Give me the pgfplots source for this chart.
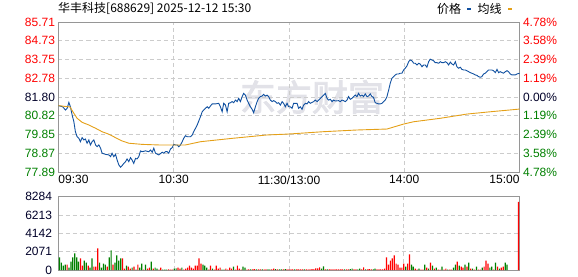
\documentclass[border=0pt]{standalone}
\usepackage{pgfplots}
\pgfplotsset{compat=1.18}
\usepackage{fontspec}
\setmainfont{Liberation Sans}
\newfontfamily\cjk{Noto Sans CJK SC}
\newfontfamily\cjkwm[FakeBold=2.5]{Noto Sans CJK SC}
\definecolor{pblue}{RGB}{16,80,160}
\definecolor{avgc}{RGB}{228,160,24}
\definecolor{upred}{RGB}{255,0,0}
\definecolor{dngreen}{RGB}{0,128,0}
\definecolor{navy}{RGB}{0,0,40}
\definecolor{gridc}{RGB}{204,204,204}
\definecolor{framec}{RGB}{150,150,150}
\definecolor{wm}{RGB}{226,226,232}

\pgfplotstableread{
m p
0 81.35
2.2 81.29
3.6 81.12
4.5 81.21
5.4 81.52
6.2 81.29
7.1 80.86
8.0 80.51
8.8 79.99
9.7 79.73
10.6 79.65
11.4 79.47
12.3 79.68
13.2 79.56
14.0 79.61
14.9 79.39
15.8 79.56
16.6 79.30
17.5 79.47
18.4 79.56
19.3 79.30
20.1 79.21
21.0 79.30
21.9 79.13
22.7 78.87
24.5 78.81
26.2 78.78
27.1 78.69
27.9 78.87
28.8 78.69
29.7 78.81
30.5 78.52
31.4 78.26
32.3 78.14
33.1 78.22
34.0 78.34
34.9 78.43
35.7 78.57
36.6 78.43
37.5 78.64
38.3 78.52
39.2 78.34
40.1 78.60
40.9 78.57
41.8 78.69
42.7 78.99
43.5 78.95
45.3 78.99
47.0 78.95
47.9 79.04
48.8 78.92
49.6 79.13
50.5 78.87
52.2 78.78
54.0 78.92
54.8 78.87
55.7 78.95
56.6 78.95
57.4 78.87
58.3 79.09
59.2 79.16
60.0 79.33
60.9 79.30
61.8 79.30
62.6 79.21
63.5 79.30
64.4 79.47
65.2 79.65
66.1 79.78
67.0 79.73
68.7 79.73
69.6 79.82
70.4 79.99
72.2 80.34
73.9 80.77
74.8 81.03
75.6 81.12
76.5 81.21
77.4 81.29
78.2 81.21
79.1 81.33
80.0 81.44
81.7 81.44
83.4 81.47
84.3 81.29
85.2 81.03
86.0 81.47
86.9 81.38
87.8 81.03
88.6 81.47
89.5 81.50
90.4 81.56
91.2 81.50
92.1 81.64
93.0 81.56
93.8 81.73
94.7 81.56
95.6 81.82
96.4 81.99
97.3 81.90
98.2 81.64
99.0 81.47
99.9 81.29
100.8 81.16
101.6 80.98
102.5 81.29
103.4 81.56
104.2 81.73
105.1 81.82
106.0 81.85
106.8 81.94
107.7 81.85
108.6 81.90
109.4 81.82
110.3 81.64
111.2 81.56
112.0 81.61
112.9 81.56
113.8 81.47
114.6 81.50
115.5 81.38
116.4 81.56
117.2 81.47
118.1 81.29
119.0 81.47
119.8 81.29
120.7 81.29
121.6 81.21
122.4 81.47
123.3 81.47
124.2 81.47
125.0 81.21
125.9 81.29
126.8 81.16
127.6 81.38
128.5 81.47
129.4 81.44
130.2 81.56
131.1 81.47
132.8 81.56
133.7 81.64
134.6 81.56
135.4 81.64
136.3 81.73
137.2 81.82
138.0 81.90
138.9 81.99
139.8 81.73
140.6 81.64
141.5 81.68
142.4 81.56
143.2 81.64
144.1 81.59
145.8 81.61
146.7 81.56
147.6 81.64
148.4 81.61
149.3 81.56
150.2 81.64
151.0 81.82
151.9 81.68
152.8 81.73
153.6 81.82
154.5 81.90
155.4 81.82
156.2 81.99
157.1 81.85
158.0 81.90
158.8 81.82
159.7 81.96
160.6 81.82
161.4 81.85
162.3 81.96
163.2 81.82
164.0 81.78
164.9 81.50
165.8 81.47
166.6 81.44
167.5 81.44
168.4 81.47
169.3 81.56
170.1 81.64
171.0 81.82
171.9 82.17
172.7 82.51
173.6 82.78
174.5 82.86
175.3 82.95
176.2 83.00
177.1 83.00
177.9 83.04
178.8 83.04
179.7 83.21
180.5 83.30
181.4 83.42
182.3 83.64
183.1 83.73
184.0 83.69
184.9 83.56
185.7 83.56
186.6 83.47
187.5 83.56
188.3 83.52
189.2 83.38
190.1 83.47
190.9 83.47
191.8 83.35
192.7 83.64
193.5 83.77
194.4 83.73
195.3 83.69
196.1 83.59
197.0 83.59
197.9 83.56
198.8 83.64
199.6 83.59
200.5 83.59
201.4 83.64
202.2 83.59
203.1 83.47
204.0 83.62
204.8 83.52
205.7 83.47
206.6 83.64
207.4 83.38
208.3 83.30
209.2 83.35
210.0 83.24
210.9 83.21
211.8 83.21
212.6 83.17
213.5 83.12
214.4 83.07
215.2 83.04
216.1 83.00
217.0 82.95
217.8 82.93
218.7 82.86
219.6 82.83
220.4 82.86
221.3 83.00
222.2 83.04
223.0 83.12
223.9 83.21
225.6 83.21
226.5 83.17
227.4 83.07
228.3 83.24
229.1 83.07
230.0 83.12
230.9 83.07
231.7 83.04
232.6 83.12
233.5 83.17
234.3 83.12
235.2 83.00
236.1 82.95
237.8 82.95
238.7 83.00
240.0 83.04
}\pricetab

\pgfplotstableread{
m p
0 81.35
6 81.28
8 80.95
9.7 80.69
12.3 80.48
15.8 80.34
19.3 80.17
22.7 79.99
26.2 79.86
29.7 79.68
33.1 79.51
36.6 79.39
43.5 79.33
52.2 79.30
66.1 79.30
74 79.47
91 79.65
108.5 79.82
120 79.87
137.7 79.99
155.4 80.08
171 80.13
174 80.22
179.7 80.39
184.9 80.51
198.8 80.69
212.6 80.91
224.8 81.03
240 81.17
}\avgtab

\pgfplotstableread{
m v
4 610
11 1300
12 500
15 500
18 380
19 380
20 2450
25 380
28 610
33 1300
34 150
36 380
37 150
39 380
41 610
44 50
46 150
47 270
49 150
52 50
53 270
57 80
58 50
59 50
62 270
63 150
65 50
66 150
67 270
68 500
69 270
70 150
71 500
72 500
73 1300
74 730
78 50
79 500
81 50
82 500
83 150
84 270
87 150
88 50
89 270
90 150
92 50
93 500
94 150
95 50
98 50
99 80
101 80
102 110
104 80
105 80
107 80
108 80
111 80
112 150
114 80
117 80
119 80
120 80
121 80
122 80
124 80
125 80
126 80
127 80
129 80
130 80
131 80
132 110
133 110
134 190
135 190
136 300
139 80
141 80
142 80
143 80
144 80
145 80
146 80
147 80
148 80
150 80
151 80
154 80
155 80
158 80
159 300
161 80
162 110
163 80
166 80
167 80
168 80
169 80
170 150
171 1420
172 610
173 1070
174 1300
175 1650
176 730
177 610
178 270
179 270
180 730
182 730
183 1760
186 150
187 50
189 50
190 50
192 270
194 840
196 150
198 50
199 50
201 50
202 150
204 50
205 50
208 960
210 380
211 270
213 380
215 150
217 50
219 50
220 50
222 380
223 1070
224 730
227 50
229 380
231 270
232 380
240 7700
}\redvol

\pgfplotstableread{
m v
0 1420
1 840
2 500
3 610
5 270
6 960
7 1420
8 1880
9 1420
10 960
13 1070
14 840
16 270
17 1300
21 840
22 270
23 730
24 610
26 1420
27 2220
29 840
30 1650
31 1070
32 1300
35 500
38 270
40 50
42 270
43 730
45 610
48 960
50 270
51 150
54 50
55 50
56 50
60 150
61 190
64 270
75 610
76 500
77 270
80 150
85 50
86 50
91 380
96 380
97 270
100 80
103 80
106 80
109 80
110 80
113 110
115 80
116 80
118 110
123 80
128 80
137 150
138 420
140 80
149 80
152 110
153 150
156 80
157 150
160 80
164 80
165 150
181 380
184 610
185 380
188 150
191 610
193 150
195 500
197 270
200 380
203 50
206 270
207 610
209 500
212 610
214 840
216 150
218 380
221 270
225 270
226 380
228 840
230 150
233 840
234 610
}\greenvol

\pgfplotsset{
  chartbase/.style={
    scale only axis, width=461pt,
    axis line style={framec, line width=0.8pt},
    major tick length=0pt, minor tick length=0pt,
    tick style={draw=none},
    major grid style={gridc, dash pattern=on 4pt off 3pt, line width=0.8pt},
    tick label style={font=\fontsize{12}{12}\selectfont},
  }
}

\begin{document}
\begin{tikzpicture}
\path[use as bounding box] (0pt,0pt) rectangle (578pt,276pt);
\node[font=\cjkwm\fontsize{36}{36}\selectfont, text=wm, inner sep=0pt] at (312pt,179pt) {东方财富};
\node[anchor=base west, font=\cjk\fontsize{12}{12}\selectfont, inner sep=0pt] at (58pt,263pt) {华丰科技[688629] 2025-12-12 15:30};

% price panel
\begin{axis}[chartbase, at={(58.5pt,104pt)}, anchor=south west, height=150pt,
  xmin=0, xmax=240, ymin=77.89, ymax=85.71,
  grid=major,
  xtick={0,60,120,180,240},
  xticklabels={\makebox[0pt][l]{09:30},10:30,11:30/13:00,14:00,\makebox[0pt][r]{15:00}},
  ytick={77.89,78.87,79.85,80.82,81.80,82.78,83.75,84.73,85.71},
  yticklabels={\textcolor{dngreen}{77.89},\textcolor{dngreen}{78.87},\textcolor{dngreen}{79.85},\textcolor{dngreen}{80.82},\textcolor{navy}{81.80},\textcolor{upred}{82.78},\textcolor{upred}{83.75},\textcolor{upred}{84.73},\textcolor{upred}{85.71}},
  legend plot pos=right,
  legend columns=2,
  legend image code/.code={\draw[line width=2.6pt] (0pt,0pt) -- (4pt,0pt);},
  legend style={at={(1,1)}, anchor=east, xshift=-6pt, yshift=13pt, draw=none, fill=none,
    font=\cjk\fontsize{12}{12}\selectfont, inner sep=0pt, column sep=3pt},
]
\addplot[pblue, line width=0.9pt] table[x=m, y=p] {\pricetab};
\addlegendentry{价格}
\addplot[avgc, line width=0.9pt] table[x=m, y=p] {\avgtab};
\addlegendentry{均线}
\end{axis}

% right percentage labels
\begin{axis}[chartbase, at={(58.5pt,104pt)}, anchor=south west, height=150pt,
  xmin=0, xmax=240, ymin=77.89, ymax=85.71,
  hide x axis, axis y line*=right, axis line style={draw=none},
  ytick={77.89,78.87,79.85,80.82,81.80,82.78,83.75,84.73,85.71},
  yticklabels={\textcolor{dngreen}{4.78\%},\textcolor{dngreen}{3.58\%},\textcolor{dngreen}{2.39\%},\textcolor{dngreen}{1.19\%},\textcolor{navy}{0.00\%},\textcolor{upred}{1.19\%},\textcolor{upred}{2.39\%},\textcolor{upred}{3.58\%},\textcolor{upred}{4.78\%}},
]
\addplot[draw=none] coordinates {(0,81.80)};
\end{axis}

% volume panel
\begin{axis}[chartbase, at={(58.5pt,6pt)}, anchor=south west, height=73.3pt,
  xmin=-0.5, xmax=240.5, ymin=0, ymax=8284,
  grid=major,
  xtick={60,120,180}, xticklabels={},
  ytick={0,2071,4142,6213,8284},
  yticklabels={\textcolor{navy}{0},\textcolor{navy}{2071},\textcolor{navy}{4142},\textcolor{navy}{6213},\textcolor{navy}{8284}},
  yticklabel style={xshift=-3pt},
]
\addplot[ybar, bar width=1.2pt, bar shift=0pt, fill=upred, draw=none] table[x=m, y=v] {\redvol};
\addplot[ybar, bar width=1.2pt, bar shift=0pt, fill=dngreen, draw=none] table[x=m, y=v] {\greenvol};
\end{axis}
\end{tikzpicture}
\end{document}
